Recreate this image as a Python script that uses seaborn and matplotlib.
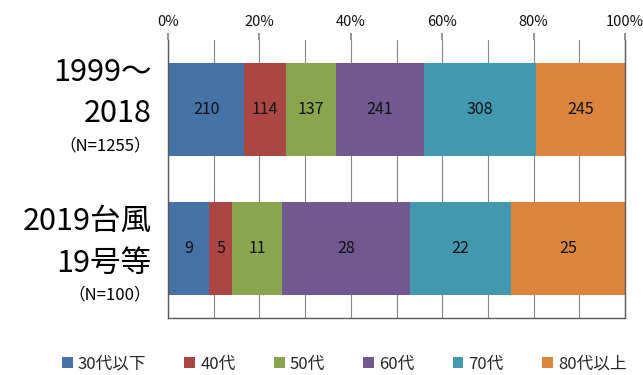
import numpy as np
import pandas as pd
import matplotlib
matplotlib.use("Agg")
import matplotlib.pyplot as plt
import seaborn as sns
from matplotlib.ticker import MultipleLocator, PercentFormatter
from matplotlib.patches import Patch

categories = ["1999～2018", "2019台風19号等"]
label_lines = [["1999～", "2018", "（N=1255）"], ["2019台風", "19号等", "（N=100）"]]
series = ["30代以下", "40代", "50代", "60代", "70代", "80代以上"]
values_1999 = [210, 114, 137, 241, 308, 245]
values_2019 = [9, 5, 11, 28, 22, 25]
colors = ["#4572A7", "#AA4643", "#89A54E", "#71588F", "#4198AF", "#DB843D"]

sns.set_theme(style="white")
plt.rcParams["font.family"] = ["Noto Sans CJK JP", "DejaVu Sans"]

counts = np.array([values_1999, values_2019], dtype=float)
pct = counts / counts.sum(axis=1, keepdims=True) * 100
cum = np.cumsum(pct, axis=1)

fig = plt.figure(figsize=(6.43, 3.75), dpi=100)
ax = fig.add_axes([168 / 643, 1 - 318 / 375, (625 - 168) / 643, (318 - 40) / 375])

for i in reversed(range(len(series))):
    df = pd.DataFrame({"cat": categories, "val": cum[:, i]})
    sns.barplot(data=df, x="val", y="cat", orient="h", color=colors[i],
                width=0.667, ax=ax, saturation=1, linewidth=0)

# value labels
for r in range(len(categories)):
    starts = np.concatenate([[0], cum[r, :-1]])
    for i in range(len(series)):
        mid = starts[i] + pct[r, i] / 2
        ax.text(mid, r, f"{int(counts[r, i])}", ha="center", va="center",
                fontsize=11.5, color="#111111")

ax.set_xlim(0, 100)
ax.set_ylim(1.5, -0.5)
ax.xaxis.set_major_locator(MultipleLocator(20))
ax.xaxis.set_minor_locator(MultipleLocator(10))
ax.xaxis.set_major_formatter(PercentFormatter(decimals=0))
ax.xaxis.tick_top()
ax.tick_params(axis="x", which="major", top=True, direction="out", length=5,
               color="#868686", labelsize=10.5, pad=3, labelcolor="#111111")
ax.tick_params(axis="x", which="minor", top=False, bottom=False)
ax.set_xlabel("")
ax.set_ylabel("")
ax.set_yticks([])
ax.grid(True, axis="x", which="both", color="#868686", linewidth=0.8)
ax.set_axisbelow(True)
for s in ["left", "bottom", "right"]:
    ax.spines[s].set_visible(True)
    ax.spines[s].set_color("#5a5a5a")
    ax.spines[s].set_linewidth(1.0)
ax.spines["top"].set_visible(False)

# category labels
offsets = [[-37, 4, 36], [-27, 15, 46]]
sizes = [22, 22, 12]
for r in range(len(categories)):
    for k, line in enumerate(label_lines[r]):
        ax.annotate(line, xy=(0, r), xycoords=("axes fraction", "data"),
                    xytext=(-12, -offsets[r][k] * 0.72), textcoords="offset points",
                    ha="right", va="center", fontsize=sizes[k], color="black")

handles = [Patch(facecolor=c, edgecolor="none") for c in colors]
fig.legend(handles, series, loc="center", bbox_to_anchor=(0.535, 1 - 364 / 375),
           ncol=6, frameon=False, fontsize=12, handlelength=0.65, handleheight=0.65,
           handletextpad=0.3, columnspacing=2.3)

fig.savefig("out.png", dpi=100)
